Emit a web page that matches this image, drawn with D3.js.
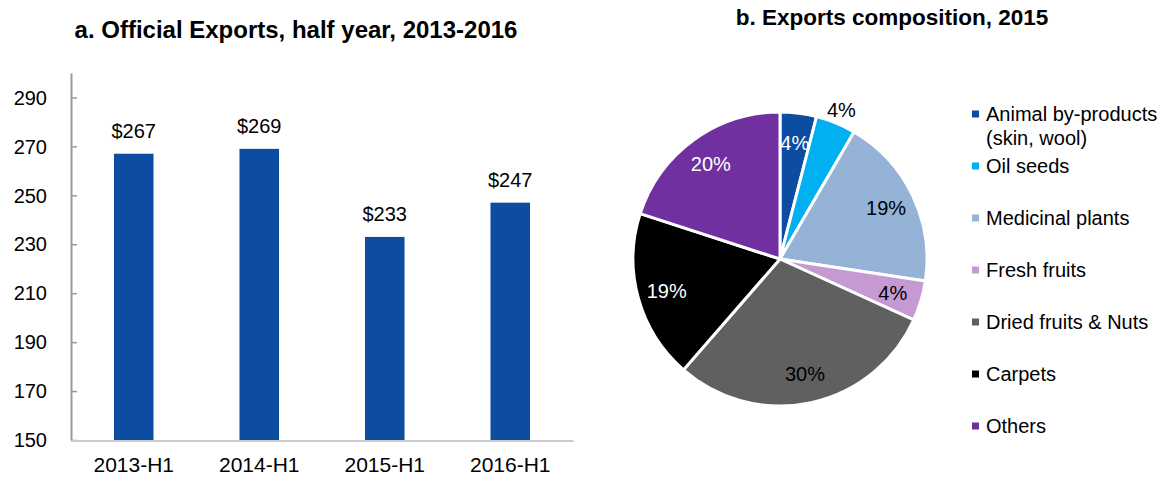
<!DOCTYPE html>
<html>
<head>
<meta charset="utf-8">
<script src="https://cdn.jsdelivr.net/npm/d3@7"></script>
<style>
  body { margin: 0; background: #fff; }
  text { font-family: "Liberation Sans", Arial, sans-serif; }
</style>
</head>
<body>
<div id="chart"></div>
<script>
// datos del panel a
const periods = ["2013-H1", "2014-H1", "2015-H1", "2016-H1"];
const exportsValues = [267, 269, 233, 247];
const yTicks = [150, 170, 190, 210, 230, 250, 270, 290];

// datos del panel b
const categories = ["Animal by-products", "Oil seeds", "Medicinal plants", "Fresh fruits",
    "Dried fruits & Nuts", "Carpets", "Others"];
const legendLabels = [["Animal by-products", "(skin, wool)"], ["Oil seeds"], ["Medicinal plants"],
    ["Fresh fruits"], ["Dried fruits & Nuts"], ["Carpets"], ["Others"]];
const shares = [4.0, 4.4, 19.0, 4.4, 29.6, 18.6, 20.0];
const outsideLabels = ["Oil seeds"];

const colors = ["#0D4DA1", "#00B0F0", "#95B3D7", "#C59AD2", "#606060", "#000000", "#7030A0"];
const labelColors = ["#fff", "#000", "#000", "#000", "#000", "#fff", "#fff"];

const width = 1172;
const height = 483;

const svg = d3.select("#chart")
    .append("svg")
    .attr("width", width)
    .attr("height", height);

// ---- panel a: barras ----
const x = d3.scaleBand()
    .domain(periods)
    .range([71, 573])
    .paddingInner(0.685)
    .paddingOuter(0.3425);

const y = d3.scaleLinear()
    .domain([150, 300])
    .range([440, 73]);

svg.append("text")
    .attr("x", 296)
    .attr("y", 38)
    .attr("text-anchor", "middle")
    .attr("font-size", 24)
    .attr("font-weight", "bold")
    .text("a. Official Exports, half year, 2013-2016");

svg.append("g")
    .selectAll("rect")
    .data(exportsValues)
    .enter().append("rect")
    .attr("x", (d, i) => x(periods[i]))
    .attr("y", d => y(d))
    .attr("width", x.bandwidth())
    .attr("height", d => y(150) - y(d))
    .attr("fill", colors[0]);

svg.append("g")
    .selectAll("text")
    .data(exportsValues)
    .enter().append("text")
    .attr("x", (d, i) => x(periods[i]) + x.bandwidth() / 2)
    .attr("y", d => y(d) - 16)
    .attr("text-anchor", "middle")
    .attr("font-size", 20)
    .attr("fill", "#000")
    .text(d => "$" + d);

// eje y (marcas hacia adentro)
const yAxis = svg.append("g")
    .attr("transform", "translate(71,0)")
    .call(d3.axisRight(y).tickValues(yTicks).tickSize(6).tickSizeOuter(0).tickFormat(""));
yAxis.select(".domain").attr("stroke", "#999").attr("stroke-width", 2);
yAxis.selectAll(".tick line").attr("stroke", "#999").attr("stroke-width", 1.5);

svg.append("g")
    .selectAll("text")
    .data(yTicks)
    .enter().append("text")
    .attr("x", 47)
    .attr("y", d => y(d))
    .attr("dy", "0.36em")
    .attr("text-anchor", "end")
    .attr("font-size", 20)
    .text(d => d);

// eje x
const xAxis = svg.append("g")
    .attr("transform", "translate(0,440.5)")
    .call(d3.axisBottom(x).tickSize(0).tickPadding(17));
xAxis.select(".domain").attr("stroke", "#ccc").attr("stroke-width", 2);
xAxis.selectAll("text")
    .attr("font-size", 21)
    .attr("font-family", "Liberation Sans, Arial, sans-serif")
    .attr("fill", "#000");

// ---- panel b: pastel ----
const cx = 780, cy = 259, radius = 147;

svg.append("text")
    .attr("x", 892)
    .attr("y", 25)
    .attr("text-anchor", "middle")
    .attr("font-size", 22.5)
    .attr("font-weight", "bold")
    .text("b. Exports composition, 2015");

const pie = d3.pie().sort(null).value(d => d);
const arcs = pie(shares);
const arc = d3.arc().innerRadius(0).outerRadius(radius);
const labelArc = d3.arc().innerRadius(radius * 0.8).outerRadius(radius * 0.8);
const outerArc = d3.arc().innerRadius(radius * 1.1).outerRadius(radius * 1.1);

const pieG = svg.append("g").attr("transform", `translate(${cx},${cy})`);

pieG.selectAll("path")
    .data(arcs)
    .enter().append("path")
    .attr("d", arc)
    .attr("fill", (d, i) => colors[i])
    .attr("stroke", "#fff")
    .attr("stroke-width", 3);

pieG.selectAll("text")
    .data(arcs)
    .enter().append("text")
    .attr("transform", (d, i) => {
        const c = outsideLabels.includes(categories[i]) ? outerArc.centroid(d) : labelArc.centroid(d);
        return `translate(${c[0]},${c[1]})`;
    })
    .attr("dy", "0.36em")
    .attr("text-anchor", "middle")
    .attr("font-size", 20)
    .attr("fill", (d, i) => outsideLabels.includes(categories[i]) ? "#000" : labelColors[i])
    .text(d => Math.round(d.data) + "%");

// leyenda
const legend = svg.append("g")
    .selectAll("g")
    .data(legendLabels)
    .enter().append("g")
    .attr("transform", (d, i) => `translate(972,${114 + i * 52})`);

legend.append("rect")
    .attr("x", 0)
    .attr("y", -3.5)
    .attr("width", 7)
    .attr("height", 7)
    .attr("fill", (d, i) => colors[i]);

legend.append("text")
    .attr("x", 14)
    .attr("font-size", 20)
    .selectAll("tspan")
    .data(d => d)
    .enter().append("tspan")
    .attr("x", 14)
    .attr("y", (d, j) => j * 24)
    .attr("dy", "0.36em")
    .text(d => d);
</script>
</body>
</html>
